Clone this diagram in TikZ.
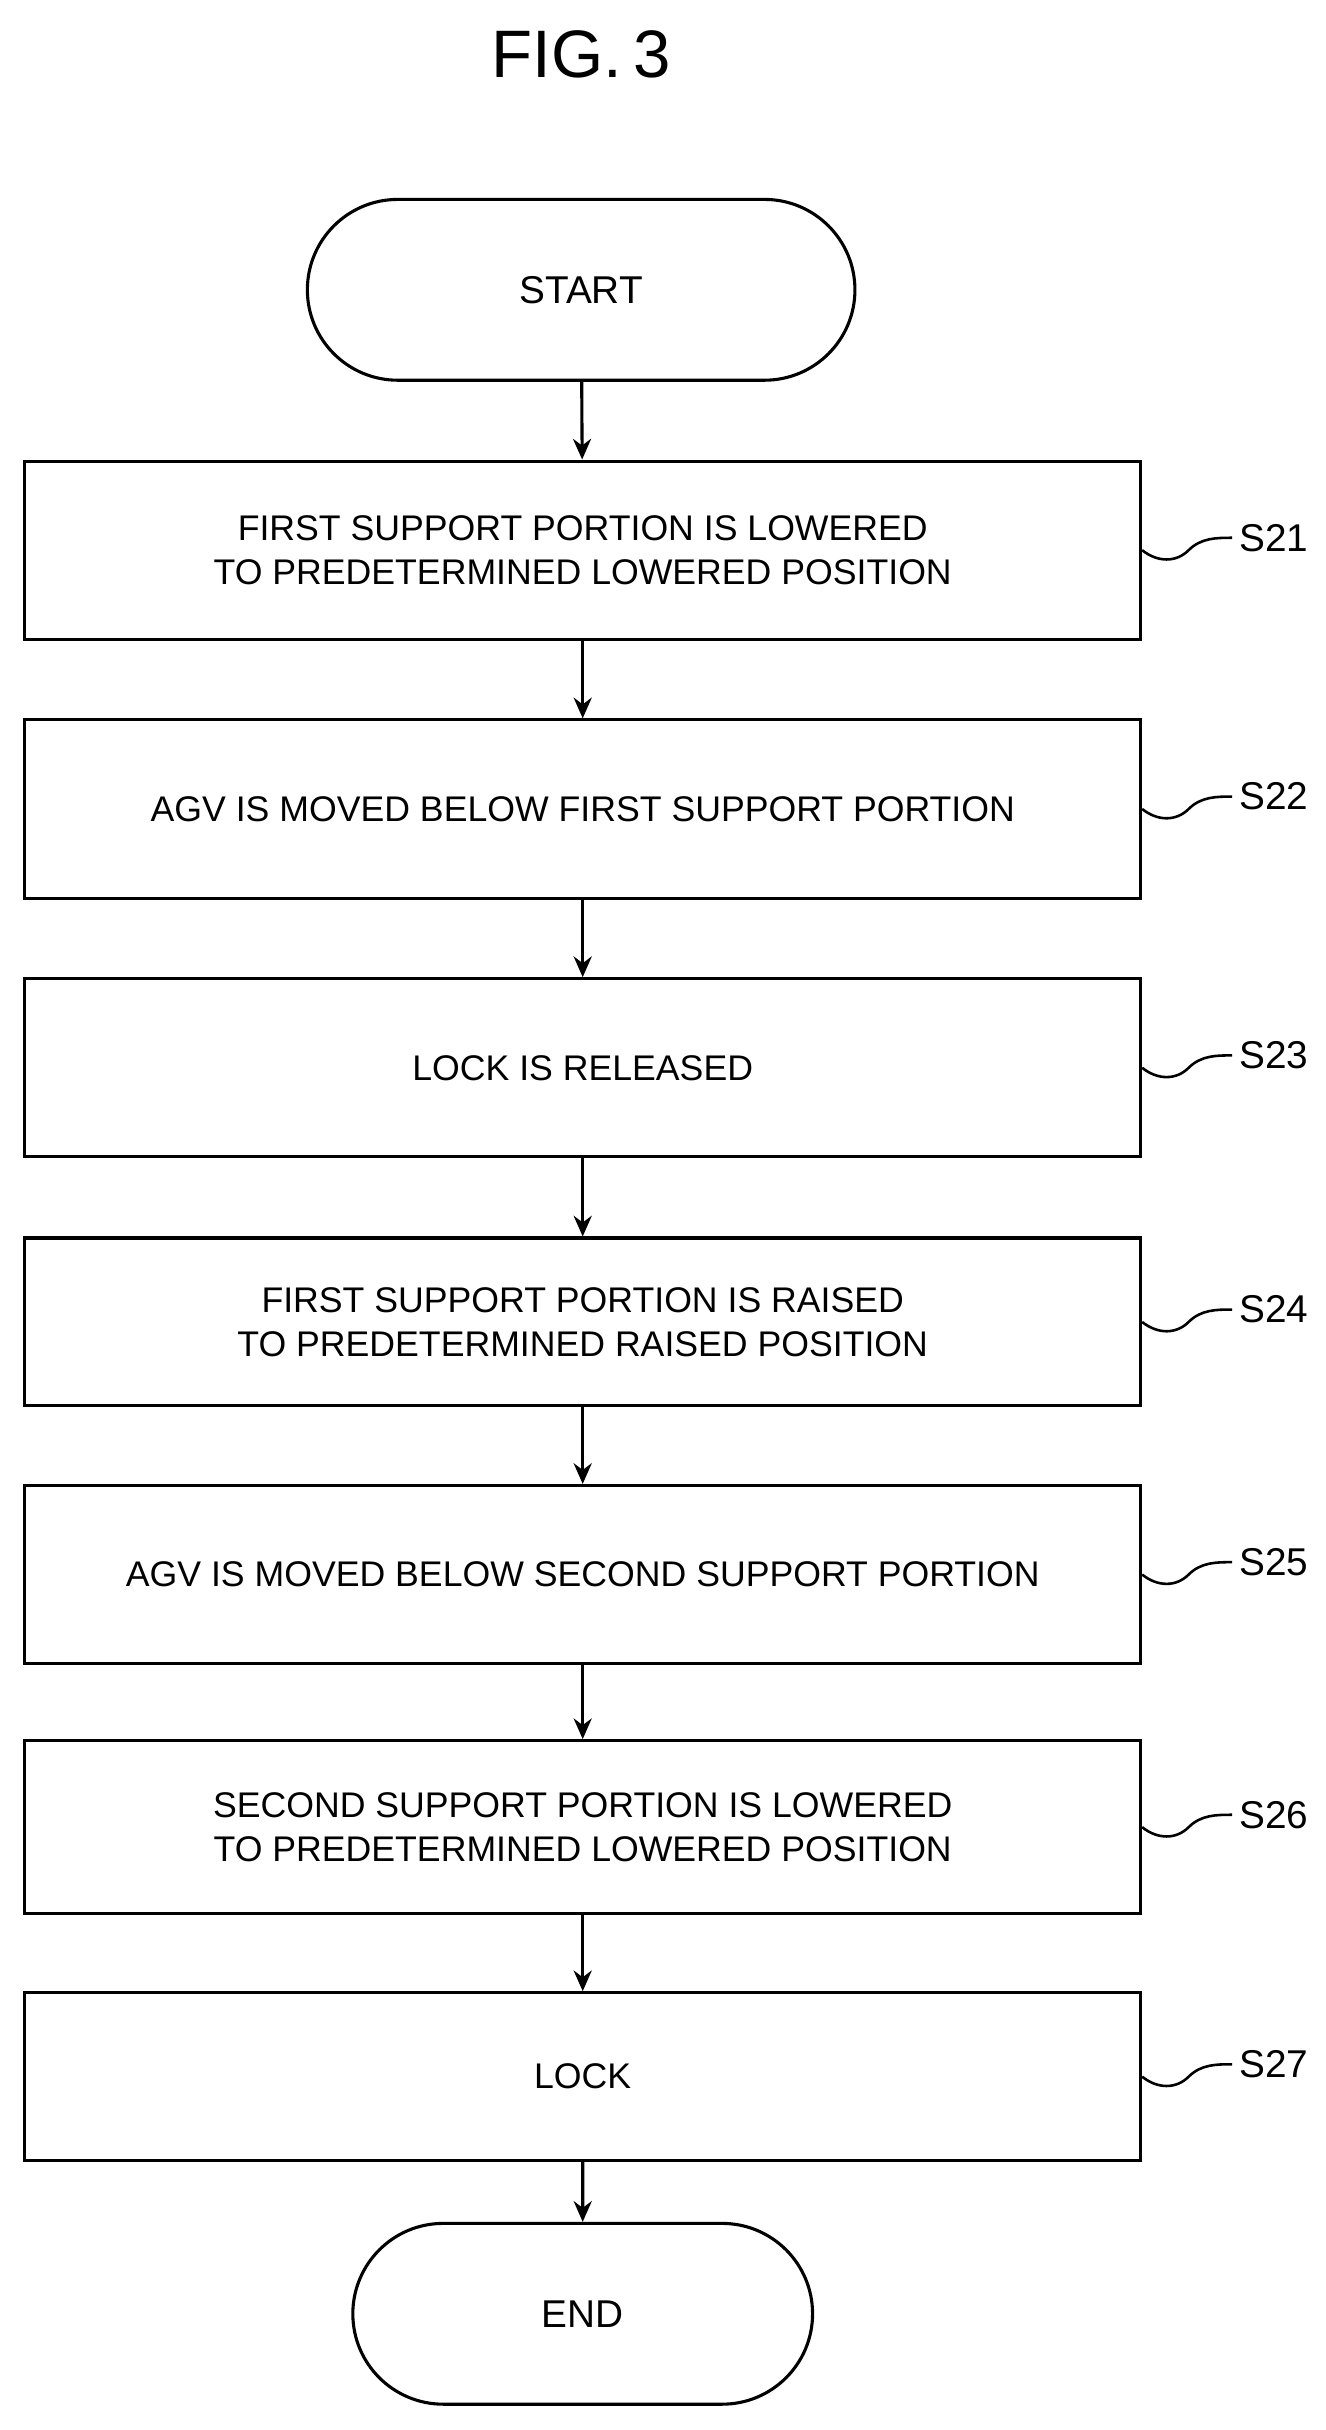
\documentclass[tikz,border=0pt]{standalone}
\usepackage{fontspec}
\setmainfont{Liberation Sans}
\usetikzlibrary{arrows.meta,shapes.misc}
\begin{document}
\begin{tikzpicture}[x=0.3pt,y=-0.3pt,
  stepbox/.style={draw,line width=0.6pt,minimum width=216pt,minimum height=34.5pt,align=center,font=\fontsize{6.9}{8.6}\selectfont,inner sep=0pt},
  term/.style={draw,line width=0.6pt,rounded rectangle,minimum height=35pt,font=\fontsize{7.5}{9}\selectfont,inner sep=0pt},
  arr/.style={line width=0.6pt,-{Stealth[length=4pt,width=3.5pt]}},
  lab/.style={font=\fontsize{7.5}{9}\selectfont,anchor=west,inner sep=0pt},
  squig/.style={line width=0.5pt}]
\useasboundingbox (0,0) rectangle (855,1568);
\node[font=\fontsize{13}{15}\selectfont] (title) at (375,35) {FIG.\,3};
\node[term,minimum width=106pt] (start) at (375,187) {START};
\node[stepbox] (s21) at (376,355) {FIRST SUPPORT PORTION IS LOWERED\\TO PREDETERMINED LOWERED POSITION};
\node[stepbox] (s22) at (376,522) {AGV IS MOVED BELOW FIRST SUPPORT PORTION};
\node[stepbox] (s23) at (376,689) {LOCK IS RELEASED};
\node[stepbox,minimum height=32.5pt] (s24) at (376,853) {FIRST SUPPORT PORTION IS RAISED\\TO PREDETERMINED RAISED POSITION};
\node[stepbox] (s25) at (376,1016) {AGV IS MOVED BELOW SECOND SUPPORT PORTION};
\node[stepbox,minimum height=33.5pt] (s26) at (376,1179) {SECOND SUPPORT PORTION IS LOWERED\\TO PREDETERMINED LOWERED POSITION};
\node[stepbox,minimum height=32.5pt] (s27) at (376,1340) {LOCK};
\node[term,minimum width=89pt] (end) at (376,1493) {END};
\draw[arr] (start) -- (s21);
\draw[arr] (s21) -- (s22);
\draw[arr] (s22) -- (s23);
\draw[arr] (s23) -- (s24);
\draw[arr] (s24) -- (s25);
\draw[arr] (s25) -- (s26);
\draw[arr] (s26) -- (s27);
\draw[arr] (s27) -- (end);
\foreach \n/\t in {s21/S21,s22/S22,s23/S23,s24/S24,s25/S25,s26/S26,s27/S27}{
  \coordinate (\n w) at ([xshift=16*0.3pt]\n.east);
  \coordinate (\n e) at ([xshift=58*0.3pt,yshift=8*0.3pt]\n.east);
  \draw[squig] (\n.east) .. controls ([xshift=10*0.3pt,yshift=-8*0.3pt]\n.east) and ([xshift=22*0.3pt,yshift=-8*0.3pt]\n.east) .. ([xshift=30*0.3pt,yshift=0pt]\n.east)
     .. controls ([xshift=38*0.3pt,yshift=8*0.3pt]\n.east) and ([xshift=48*0.3pt,yshift=8*0.3pt]\n.east) .. (\n e);
  \node[lab] (\n lab) at ([xshift=4*0.3pt]\n e) {\t};
}
\end{tikzpicture}
\end{document}
